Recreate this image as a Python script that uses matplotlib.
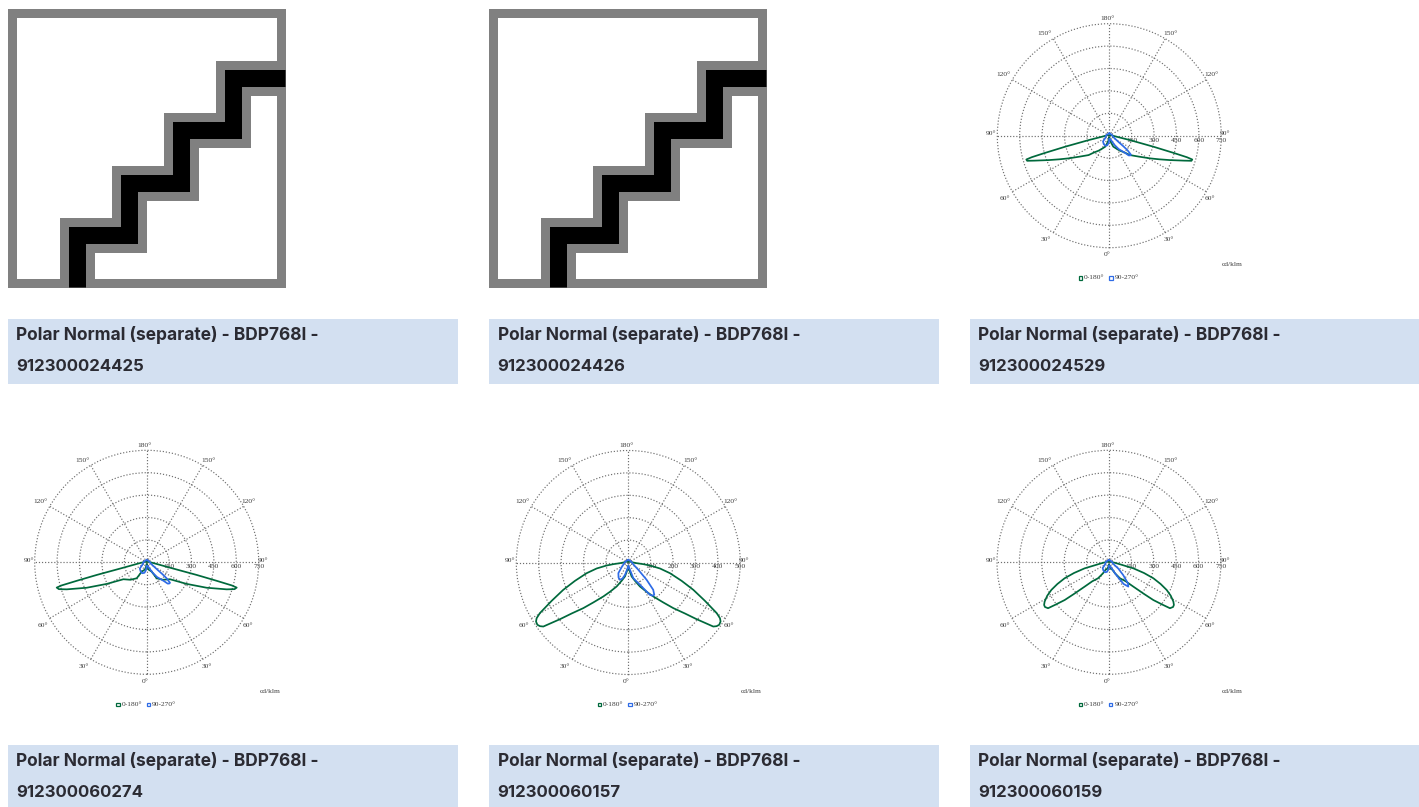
import matplotlib
matplotlib.use('Agg')
import matplotlib.pyplot as plt
from matplotlib.patches import Rectangle
import numpy as np

W, H = 1419, 807

codes = ['912300024425', '912300024426', '912300024529',
         '912300060274', '912300060157', '912300060159']
title_line = 'Polar Normal (separate) - BDP768I -'

# gamma in degrees (0 = straight down), intensity in cd/klm
# green curve 0-180 is mirrored left/right, blue 90-270 is not
green_a = [0, 6, 14, 20, 27.8, 35.4, 42, 46.9, 55, 60.9, 64.7, 68.1, 71.6, 73, 74, 74.5, 75, 76, 78, 82, 85, 90, 100, 135, 180]
green_a_v = [15, 25, 46, 78, 96, 123, 150, 190, 245, 312, 370, 438, 529, 575, 578, 540, 450, 304, 141, 50, 35, 25, 15, 6, 3]

green_b = [0, 6, 14, 28, 32, 43, 54, 61.6, 67, 71.3, 73, 74.3, 74.8, 75.2, 75.8, 77, 80.5, 85, 90, 100, 135, 180]
green_b_v = [15, 25, 50, 71, 126, 160, 193, 304, 436, 565, 615, 626, 590, 480, 345, 160, 68, 38, 25, 15, 6, 3]

green_c = [0, 6, 13.4, 20, 25.9, 32, 36.3, 41.2, 44.6, 48, 50.3, 51.8, 53, 54.2, 55.6, 57.4, 58.7, 60.2, 63.4, 67.2, 71, 75.6, 79.3, 82.1, 83.7, 85.4, 90, 100, 135, 180]
green_c_v = [18, 30, 64, 87, 119, 154, 188, 237, 286, 340, 396, 436, 475, 486, 492, 489, 479, 455, 383, 315, 252, 192, 144, 98, 67, 37, 22, 14, 6, 3]

green_d = [0, 8, 15, 24.4, 28.6, 34.5, 41.3, 45, 47.9, 49.6, 51.6, 53, 55.1, 56.7, 58.6, 61.6, 64.4, 67.2, 70.2, 73, 76.1, 79.7, 85, 90, 100, 135, 180]
green_d_v = [18, 30, 45, 54, 84, 130, 169, 230, 316, 390, 456, 511, 523, 520, 505, 470, 428, 375, 316, 245, 168, 75, 40, 25, 15, 6, 3]

# blue lobes, signed angle: minus = left of the centre line
blue_a = [-180, -120, -90, -60, -48, -34, -22, -12, -6, -3, 0, 10, 20, 29, 35, 42.7, 44.5, 46.5, 48.7, 51.3, 53, 55.8, 65, 72, 90, 120, 180]
blue_a_v = [16, 16, 22, 31, 57, 67, 72, 66, 50, 35, 20, 22, 29, 69, 109, 158, 185, 192, 193, 157, 120, 75, 37, 28, 22, 16, 16]

blue_b = [-180, -120, -90, -60, -48, -34, -22, -12, -6, -3, 0, 10, 20, 29, 35, 42.7, 44.5, 46.5, 48.7, 51.3, 53, 55.8, 65, 72, 90, 120, 180]
blue_b_v = [16, 16, 22, 33, 62, 73, 79, 72, 55, 38, 22, 24, 32, 76, 120, 172, 200, 207, 208, 170, 130, 82, 40, 30, 22, 16, 16]

blue_c = [-180, -120, -90, -55, -43, -33, -25.7, -20, -15, -8, 0, 10, 17.7, 29, 33.8, 36.5, 38.8, 42.4, 46.6, 54, 65, 90, 120, 180]
blue_c_v = [12, 12, 16, 36, 65, 80, 86, 76, 57, 28, 14, 25, 73, 122, 174, 184, 185, 165, 113, 55, 28, 16, 12, 12]

blue_d = [-180, -120, -90, -60, -48, -34, -22, -12, -6, -3, 0, 10, 20, 29, 34, 38.5, 42, 48, 56, 70, 90, 120, 180]
blue_d_v = [16, 16, 22, 31, 57, 67, 72, 66, 50, 35, 20, 22, 32, 90, 175, 208, 190, 128, 75, 30, 22, 16, 16]

rings_750 = [150, 300, 450, 600, 750]
rings_500 = [100, 200, 300, 400, 500]

# name: center x, center y, rings, green, blue
polar_charts = [
    (1109.3, 135.7, rings_750, green_a, green_a_v, blue_a, blue_a_v),
    (146.7, 562.3, rings_750, green_b, green_b_v, blue_b, blue_b_v),
    (628.3, 562.5, rings_500, green_c, green_c_v, blue_c, blue_c_v),
    (1109.0, 562.3, rings_750, green_d, green_d_v, blue_d, blue_d_v),
]

angle_labels = [('180°', -1.7, -117), ('150°', -64.3, -102), ('150°', 61.7, -102),
                ('120°', -106, -61), ('120°', 102, -61), ('90°', -118, -2.3), ('90°', 116, -2.3),
                ('60°', -104, 63), ('60°', 100.7, 63), ('30°', -63, 104), ('30°', 60, 104), ('0°', -1.7, 119)]

stair_x = [77.5, 77.5, 129.5, 129.5, 181.5, 181.5, 233.5, 233.5, 286]
stair_y = [288, 235.5, 235.5, 183.5, 183.5, 130.5, 130.5, 78.5, 78.5]

GREEN = '#00693c'
BLUE = '#2e6be6'
GREY = '#808080'
BANNER = '#d3e0f1'
TEXT = '#3c3c3c'
PX = 72 / 100  # one pixel in points
R_PX = 112

plt.rcParams['font.family'] = ['Liberation Serif', 'DejaVu Serif']

fig = plt.figure(figsize=(W / 100, H / 100), dpi=100, facecolor='white')
page = fig.add_axes([0, 0, 1, 1])
page.set_xlim(0, W)
page.set_ylim(H, 0)
page.axis('off')


def draw_stairs(x0):
    # frame plus stair band, black on top of a wider grey one
    shift = -0.9
    page.add_patch(Rectangle((x0 + 4.5 + shift, 13.5 + shift), 269, 270, fill=False, ec=GREY, lw=9 * PX,
                             joinstyle='miter'))
    xs = [x + x0 - 8 + shift for x in stair_x]
    ys = [y + shift for y in stair_y]
    page.plot(xs, ys, color=GREY, lw=35 * PX, solid_joinstyle='miter', solid_capstyle='butt')
    page.plot(xs, ys, color='black', lw=17 * PX, solid_joinstyle='miter', solid_capstyle='butt')


def draw_polar(cx, cy, rings, g_ang, g_val, b_ang, b_val):
    pos = [(cx - R_PX) / W, 1 - (cy + R_PX) / H, 2 * R_PX / W, 2 * R_PX / H]
    ax = fig.add_axes(pos, projection='polar', facecolor='none')
    ax.set_theta_zero_location('S')
    ax.set_ylim(0, rings[-1])
    ax.set_thetagrids(range(0, 360, 30), labels=[])
    ax.set_rgrids(rings, labels=[])
    ax.grid(True, color='#6e6e6e', lw=0.85, ls=(0, (1, 1.6)))
    for line in ax.get_xgridlines() + ax.get_ygridlines():
        line.set_clip_on(False)
    ax.spines['polar'].set_visible(False)
    ax.tick_params(length=0)

    g_ang = np.array(g_ang)
    g_theta = np.radians(np.concatenate([g_ang, 360 - g_ang[::-1]]))
    g_r = list(g_val) + list(g_val[::-1])
    ax.plot(g_theta, g_r, color=GREEN, lw=1.25)
    ax.plot(np.radians(b_ang), b_val, color=BLUE, lw=1.25)

    for txt, dx, dy in angle_labels:
        page.text(cx + dx, cy + dy, txt, fontsize=5.4, color=TEXT, ha='center', va='center')
    for i, v in enumerate(rings):
        page.text(cx + R_PX * (i + 1) / len(rings), cy + 4.3, str(v), fontsize=5.4, color=TEXT,
                  ha='center', va='center', zorder=5)
    page.text(cx + 123, cy + 129, 'cd/klm', fontsize=5.4, color=TEXT, ha='center', va='center')

    # small legend
    for off, col, txt in [(-29, GREEN, '0-180°'), (1.5, BLUE, '90-270°')]:
        page.add_patch(Rectangle((cx + off - 1.5, cy + 140.5), 3.4, 3.4, fill=False, ec=col, lw=0.9))
        page.text(cx + off + 3.8, cy + 142, txt, fontsize=5.4, color=TEXT, ha='left', va='center')


draw_stairs(8)
draw_stairs(489)
for chart in polar_charts:
    draw_polar(*chart)

banner_x = [(8, 458), (489, 939), (970, 1419)]
banner_y = [(319, 384), (745, 807)]
for row, (y0, y1) in enumerate(banner_y):
    for col, (x0, x1) in enumerate(banner_x):
        page.add_patch(Rectangle((x0, y0), x1 - x0, y1 - y0, fc=BANNER, ec='none'))
        page.text(x0 + 8.5, y0 + 15.5, title_line, family=['Inter', 'DejaVu Sans'], fontweight='bold',
                  fontsize=12.5, color='#2b2b33', ha='left', va='center')
        page.text(x0 + 8.5, y0 + 47.5, codes[row * 3 + col], family=['Inter', 'DejaVu Sans'], fontweight='bold',
                  fontsize=12.1, color='#2b2b33', ha='left', va='center')

fig.savefig('out.png', dpi=100)
